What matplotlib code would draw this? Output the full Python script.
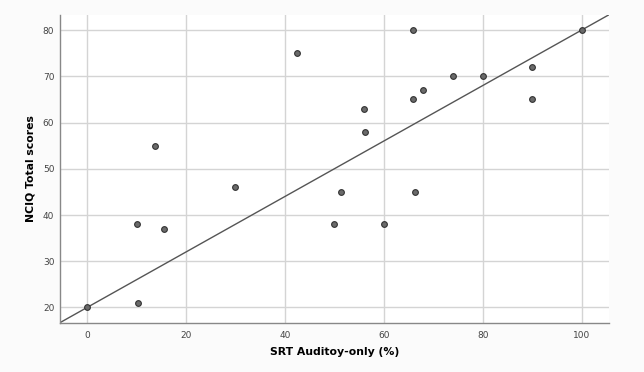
import matplotlib
matplotlib.use("Agg")
import matplotlib.pyplot as plt
import numpy as np

# SRT auditory-only (%) vs NCIQ total score
srt = [0, 10, 10.3, 15.5, 13.8, 30, 42.5, 50, 51.3, 60, 66.3,
       66, 56, 56.3, 66, 68, 74, 80, 90, 90, 100]
nciq = [20, 38, 21, 37, 55, 46, 75, 38, 45, 38, 45,
        80, 63, 58, 65, 67, 70, 70, 72, 65, 80]

# fit line
intercept = 20
slope = 0.6

xticks = [0, 20, 40, 60, 80, 100]
yticks = [20, 30, 40, 50, 60, 70, 80]

fig = plt.figure(figsize=(6.44, 3.72), dpi=100)
fig.patch.set_facecolor("#fbfbfb")
ax = fig.add_axes([0.093, 0.1325, 0.853, 0.8275])
ax.set_facecolor("white")

xlim = (-5.5, 105.6)
ylim = (16.7, 83.3)
ax.set_xlim(*xlim)
ax.set_ylim(*ylim)

ax.set_xticks(xticks)
ax.set_yticks(yticks)
ax.grid(True, color="#d4d4d4", linewidth=1.0)
ax.set_axisbelow(True)

lx = np.array(xlim)
ax.plot(lx, intercept + slope * lx, color="#555555", linewidth=1.0, zorder=2)

ax.scatter(srt, nciq, s=17, facecolor="#6a6a6a", edgecolor="#333333",
           linewidth=0.8, zorder=3)

for s in ["top", "right"]:
    ax.spines[s].set_visible(False)
for s in ["left", "bottom"]:
    ax.spines[s].set_color("#888888")
    ax.spines[s].set_linewidth(1.0)

ax.tick_params(axis="x", length=0, labelsize=6.5, labelcolor="#444444", pad=6)
ax.tick_params(axis="y", length=0, labelsize=6.5, labelcolor="#444444", pad=4)

ax.set_xlabel("SRT Auditoy-only (%)", fontsize=7.8, fontweight="bold", labelpad=5)
ax.set_ylabel("NCIQ Total scores", fontsize=7.8, fontweight="bold", labelpad=5)

fig.savefig("out.png", dpi=100, facecolor=fig.get_facecolor())
